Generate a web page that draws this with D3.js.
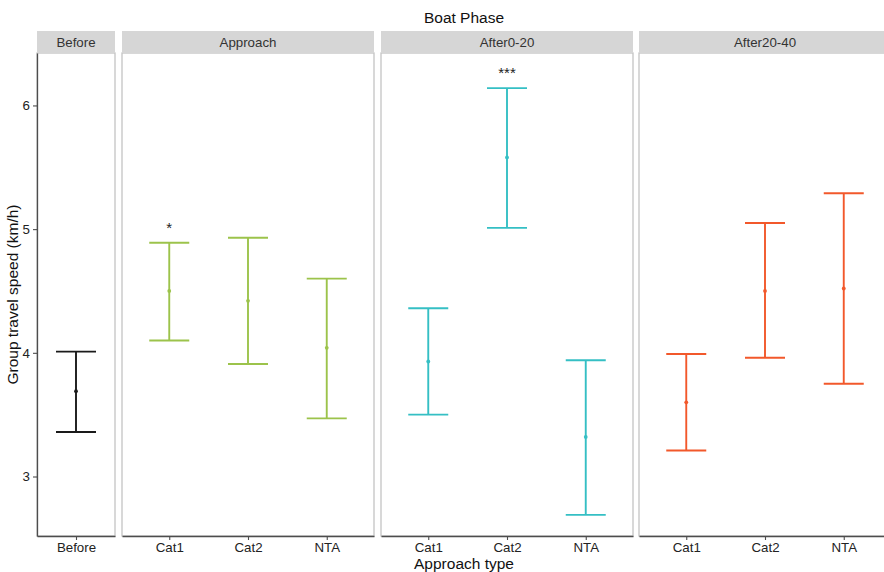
<!DOCTYPE html>
<html>
<head>
<meta charset="utf-8">
<script src="https://cdn.jsdelivr.net/npm/d3@7/dist/d3.min.js"></script>
<style>
  html, body { margin: 0; padding: 0; background: #fff; }
  svg { display: block; font-family: "Liberation Sans", Arial, sans-serif; }
</style>
</head>
<body>
<svg id="chart" width="884" height="572"></svg>
<script>
// Facets (boat phase) and the approach types shown in each
const phases = ["Before", "Approach", "After0-20", "After20-40"];
const phaseCategories = [
  ["Before"],
  ["Cat1", "Cat2", "NTA"],
  ["Cat1", "Cat2", "NTA"],
  ["Cat1", "Cat2", "NTA"]
];
const phaseColors = ["#1a1a1a", "#9cc34b", "#35bfc4", "#f2582b"];

// Group travel speed (km/h): mean and confidence limits, one row per phase
const meanSpeed = [
  [3.69],
  [4.50, 4.42, 4.04],
  [3.93, 5.58, 3.32],
  [3.60, 4.50, 4.52]
];
const lowerSpeed = [
  [3.36],
  [4.10, 3.91, 3.47],
  [3.50, 5.01, 2.69],
  [3.21, 3.96, 3.75]
];
const upperSpeed = [
  [4.01],
  [4.89, 4.93, 4.60],
  [4.36, 6.14, 3.94],
  [3.99, 5.05, 5.29]
];
const significance = [
  [""],
  ["*", "", ""],
  ["", "***", ""],
  ["", "", ""]
];

const yTicks = [3, 4, 5, 6];
const yDomain = [2.519, 6.424];

const svg = d3.select("#chart");

// Layout
const panelTop = 53, panelBottom = 536, stripTop = 31;
const panelX = [[37, 115], [122, 374], [381, 633], [639, 891]];
const capHalf = 20;

const y = d3.scaleLinear().domain(yDomain).range([panelBottom, panelTop]);

const axisColor = "#4d4d4d";
const borderColor = "#c4c4c4";
const textColor = "#222";

phases.forEach((phase, i) => {
  const [x0, x1] = panelX[i];
  const x = d3.scalePoint()
    .domain(phaseCategories[i])
    .range([x0, x1])
    .padding(i === 0 ? 0.5 : 0.6);

  const g = svg.append("g");

  // Panel border
  g.append("rect")
    .attr("x", x0).attr("y", panelTop)
    .attr("width", x1 - x0).attr("height", panelBottom - panelTop)
    .attr("fill", "none")
    .attr("stroke", borderColor)
    .attr("stroke-width", 1.3);

  // Strip
  g.append("rect")
    .attr("x", x0).attr("y", stripTop)
    .attr("width", x1 - x0).attr("height", panelTop - stripTop)
    .attr("fill", "#d6d6d6");
  g.append("text")
    .attr("x", (x0 + x1) / 2)
    .attr("y", (stripTop + panelTop) / 2 + 4.8)
    .attr("text-anchor", "middle")
    .attr("font-size", 13.3)
    .attr("fill", "#333")
    .text(phase);

  // Error bars
  const rows = phaseCategories[i].map((c, j) => ({
    cat: c,
    mean: meanSpeed[i][j],
    lo: lowerSpeed[i][j],
    hi: upperSpeed[i][j],
    sig: significance[i][j]
  }));
  const color = phaseColors[i];
  const bars = g.selectAll(".bar").data(rows).enter().append("g");
  bars.append("line")
    .attr("x1", d => x(d.cat)).attr("x2", d => x(d.cat))
    .attr("y1", d => y(d.lo)).attr("y2", d => y(d.hi))
    .attr("stroke", color).attr("stroke-width", 1.9);
  bars.append("line")
    .attr("x1", d => x(d.cat) - capHalf).attr("x2", d => x(d.cat) + capHalf)
    .attr("y1", d => y(d.hi)).attr("y2", d => y(d.hi))
    .attr("stroke", color).attr("stroke-width", 1.9);
  bars.append("line")
    .attr("x1", d => x(d.cat) - capHalf).attr("x2", d => x(d.cat) + capHalf)
    .attr("y1", d => y(d.lo)).attr("y2", d => y(d.lo))
    .attr("stroke", color).attr("stroke-width", 1.9);
  bars.append("circle")
    .attr("cx", d => x(d.cat)).attr("cy", d => y(d.mean))
    .attr("r", 1.9).attr("fill", color);
  bars.filter(d => d.sig).append("text")
    .attr("x", d => x(d.cat))
    .attr("y", d => y(d.hi) - 10)
    .attr("text-anchor", "middle")
    .attr("font-size", 15)
    .attr("fill", "#222")
    .text(d => d.sig);

  // Bottom axis
  const xAxis = g.append("g")
    .attr("transform", `translate(0,${panelBottom})`)
    .call(d3.axisBottom(x).tickSize(4).tickSizeOuter(0).tickPadding(3));
  xAxis.select(".domain").attr("stroke", axisColor).attr("stroke-width", 1.3);
  xAxis.selectAll(".tick line").attr("stroke", axisColor).attr("stroke-width", 1.1);
  xAxis.selectAll(".tick text")
    .attr("font-size", 13.3).attr("fill", textColor)
    .attr("font-family", "Liberation Sans, Arial, sans-serif");

  // Left axis on the first panel only
  if (i === 0) {
    const yAxis = g.append("g")
      .attr("transform", `translate(${x0},0)`)
      .call(d3.axisLeft(y).tickValues(yTicks).tickFormat(d3.format("d"))
        .tickSize(4).tickSizeOuter(0).tickPadding(3));
    yAxis.select(".domain").attr("stroke", axisColor).attr("stroke-width", 1.3);
    yAxis.selectAll(".tick line").attr("stroke", axisColor).attr("stroke-width", 1.1);
    yAxis.selectAll(".tick text")
      .attr("font-size", 13.3).attr("fill", textColor)
      .attr("font-family", "Liberation Sans, Arial, sans-serif");
  }
});

// Titles
svg.append("text")
  .attr("x", 464).attr("y", 23)
  .attr("text-anchor", "middle")
  .attr("font-size", 15.5).attr("fill", "#111")
  .text("Boat Phase");

svg.append("text")
  .attr("x", 464).attr("y", 569)
  .attr("text-anchor", "middle")
  .attr("font-size", 15.5).attr("fill", "#111")
  .text("Approach type");

svg.append("text")
  .attr("transform", `translate(18,${(panelTop + panelBottom) / 2}) rotate(-90)`)
  .attr("text-anchor", "middle")
  .attr("font-size", 15.5).attr("fill", "#111")
  .text("Group travel speed (km/h)");
</script>
</body>
</html>
